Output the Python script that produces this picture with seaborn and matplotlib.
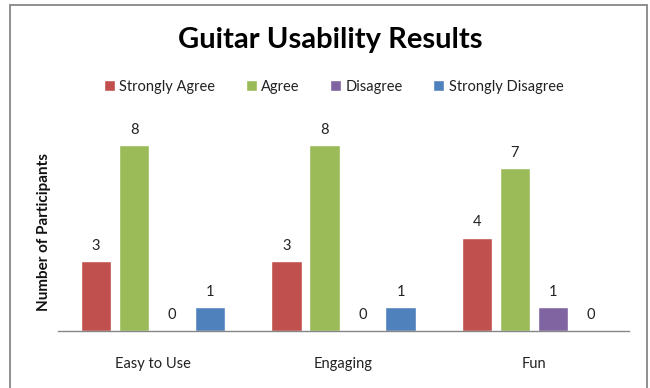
import matplotlib
matplotlib.use("Agg")
import matplotlib.pyplot as plt
from matplotlib.patches import Rectangle
import seaborn as sns
import pandas as pd

aspects = ["Easy to Use", "Engaging", "Fun"]
responses = ["Strongly Agree", "Agree", "Disagree", "Strongly Disagree"]
strongly_agree = [3, 3, 4]
agree = [8, 8, 7]
disagree = [0, 0, 1]
strongly_disagree = [1, 1, 0]
colors = ["#C0504D", "#9BBB59", "#8064A2", "#4F81BD"]

rows = []
for resp, vals in zip(responses, [strongly_agree, agree, disagree, strongly_disagree]):
    for asp, v in zip(aspects, vals):
        rows.append({"Aspect": asp, "Response": resp, "Count": v})
df = pd.DataFrame(rows)

sns.set_theme(style="white")
plt.rcParams["font.family"] = ["Lato", "DejaVu Sans"]

fig = plt.figure(figsize=(6.5, 3.88), dpi=100)
ax = fig.add_axes([0.0892, 0.148, 0.8785, 0.538])

sns.barplot(data=df, x="Aspect", y="Count", hue="Response", order=aspects,
            hue_order=responses, palette=dict(zip(responses, colors)),
            width=0.8, gap=0.2, saturation=1, ax=ax, legend=True)

for cont in ax.containers:
    ax.bar_label(cont, fmt="%d", padding=6, fontsize=10.5, color="#222222")

ax.set_ylim(0, 9)
ax.set_yticks([])
ax.set_xlabel("")
ax.set_ylabel("Number of Participants", fontsize=11, fontweight="bold", color="#111111")
ax.yaxis.set_label_coords(-0.012, 0.47)
ax.tick_params(axis="x", length=0, pad=19, labelsize=10.5, labelcolor="#222222")
for s in ["top", "right", "left"]:
    ax.spines[s].set_visible(False)
ax.spines["bottom"].set_color("#868686")
ax.spines["bottom"].set_linewidth(1.0)

handles, labels = ax.get_legend_handles_labels()
ax.legend_.remove()
fig.legend(handles, labels, loc="center", bbox_to_anchor=(0.513, 0.776), ncol=4,
           frameon=False, fontsize=10.5, handlelength=0.75, handleheight=0.75,
           handletextpad=0.3, columnspacing=2.1, labelcolor="#222222")

fig.text(0.508, 0.897, "Guitar Usability Results", ha="center", va="center",
         fontsize=21, fontweight="bold", color="#000000")

fig.patches.append(Rectangle((10 / 650, -0.05), 637 / 650, 1.037, transform=fig.transFigure,
                             fill=False, edgecolor="#868686", linewidth=1.3, figure=fig))

fig.savefig("out.png", dpi=100)
